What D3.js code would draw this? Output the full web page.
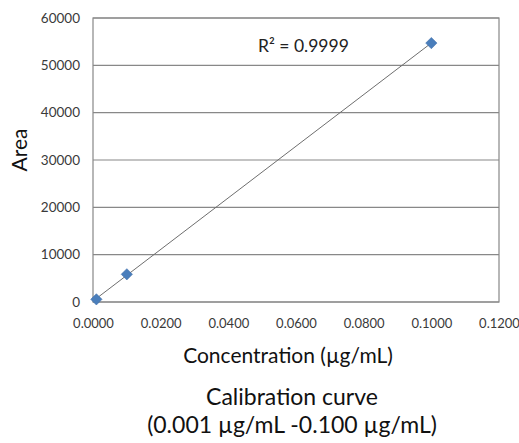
<!DOCTYPE html>
<html><head><meta charset="utf-8">
<script src="https://cdn.jsdelivr.net/npm/d3@7"></script>
<style>body{margin:0;background:#fff}svg{display:block}</style>
</head><body>
<svg id="c" width="519" height="443"></svg>
<script>
const concentrations = [0.001, 0.01, 0.1];
const areas = [560, 5850, 54700];
const xTicks = [0, 0.02, 0.04, 0.06, 0.08, 0.10, 0.12];
const yTicks = [0, 10000, 20000, 30000, 40000, 50000, 60000];
const r2Label = "R² = 0.9999";
const xTitle = "Concentration (µg/mL)";
const yTitle = "Area";
const captionLines = ["Calibration curve", "(0.001 µg/mL -0.100 µg/mL)"];

const svg = d3.select("#c");
const L = 93, R = 499, T = 18, B = 302;
const x = d3.scaleLinear().domain([0, 0.12]).range([L, R]);
const y = d3.scaleLinear().domain([0, 60000]).range([B, T]);
const font = "Lato, 'Open Sans', sans-serif";

// gridlines
svg.append("g").selectAll("line").data(yTicks).join("line")
  .attr("x1", L).attr("x2", R)
  .attr("y1", d => y(d)).attr("y2", d => y(d))
  .attr("stroke", "#888").attr("stroke-width", 1.2);
// border
svg.append("rect").attr("x", L).attr("y", T).attr("width", R - L).attr("height", B - T)
  .attr("fill", "none").attr("stroke", "#888").attr("stroke-width", 1.2);

const yAxis = svg.append("g").attr("transform", `translate(${L},0)`)
  .call(d3.axisLeft(y).tickValues(yTicks).tickSize(0).tickPadding(13).tickFormat(d3.format("d")));
yAxis.select(".domain").remove();
yAxis.selectAll("text").attr("font-family", font).attr("font-size", 13.5).attr("fill", "#3a3a3a");

const xAxis = svg.append("g").attr("transform", `translate(0,${B})`)
  .call(d3.axisBottom(x).tickValues(xTicks).tickSize(0).tickPadding(17).tickFormat(d3.format(".4f")));
xAxis.select(".domain").remove();
xAxis.selectAll("text").attr("font-family", font).attr("font-size", 13).attr("fill", "#3a3a3a");

// trendline (least squares)
const n = concentrations.length;
const mx = d3.mean(concentrations), my = d3.mean(areas);
let sxy = 0, sxx = 0;
for (let i = 0; i < n; i++) { sxy += (concentrations[i]-mx)*(areas[i]-my); sxx += (concentrations[i]-mx)**2; }
const slope = sxy / sxx, icpt = my - slope * mx;
const x0 = d3.min(concentrations), x1 = d3.max(concentrations);
svg.append("line")
  .attr("x1", x(x0)).attr("y1", y(icpt + slope*x0))
  .attr("x2", x(x1)).attr("y2", y(icpt + slope*x1))
  .attr("stroke", "#6e6e6e").attr("stroke-width", 1);

// markers (square rotated 45° = Excel diamond)
svg.append("g").selectAll("path").data(concentrations.map((c,i)=>[c, areas[i]])).join("path")
  .attr("d", d3.symbol(d3.symbolSquare, 64))
  .attr("transform", d => `translate(${x(d[0])},${y(d[1])}) rotate(45)`)
  .attr("fill", "#4a7ebb").attr("stroke", "#3b6aa8").attr("stroke-width", 0.5);

// R2 label
svg.append("text").attr("x", 258).attr("y", 52).attr("font-family", font)
  .attr("font-size", 17.5).attr("fill", "#222").text(r2Label);

// axis titles
svg.append("text").attr("transform", "translate(27,150) rotate(-90)")
  .attr("text-anchor", "middle").attr("font-family", font).attr("font-size", 21).attr("fill", "#111").text(yTitle);
svg.append("text").attr("x", 288).attr("y", 363).attr("text-anchor", "middle")
  .attr("font-family", font).attr("font-size", 21).attr("fill", "#111").text(xTitle);

svg.append("g").selectAll("text").data(captionLines).join("text")
  .attr("x", 292).attr("y", (d,i) => 405 + i*28).attr("text-anchor", "middle")
  .attr("font-family", font).attr("font-size", 23).attr("fill", "#111").text(d => d);
</script>
</body></html>
